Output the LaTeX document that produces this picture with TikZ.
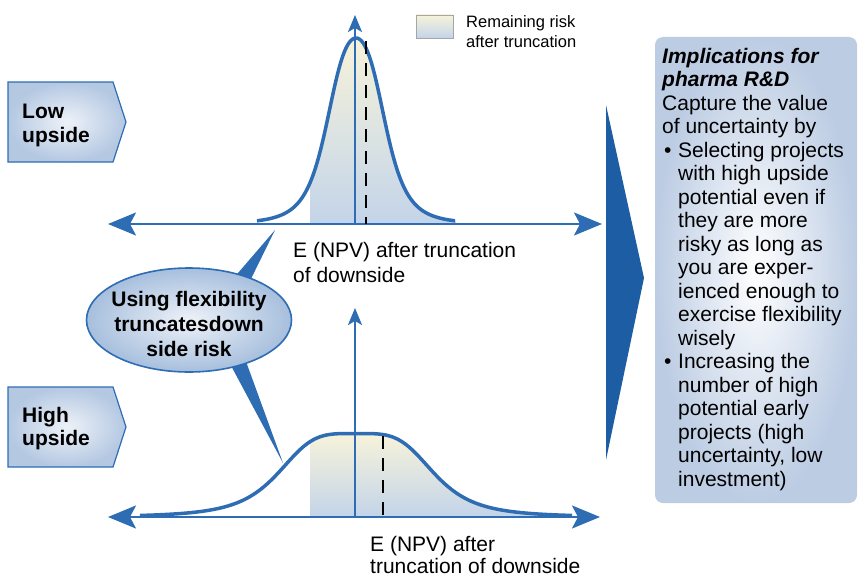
\documentclass[tikz,border=0pt]{standalone}
\usepackage{fontspec}
\setmainfont{Liberation Sans}
\usetikzlibrary{arrows.meta,shapes.geometric}

\definecolor{axisblue}{HTML}{2E6DB4}
\definecolor{deepblue}{HTML}{1C5DA3}
\definecolor{boxblue}{HTML}{B4C8E2}
\definecolor{boxcore}{HTML}{EEF2F8}
\definecolor{cream}{HTML}{F7F3DA}
\definecolor{riskblue}{HTML}{C3D4E9}
\definecolor{panelblue}{HTML}{BCCCE3}

% bullet and hanging indent for the implications list
\newcommand\pbul{\makebox[16pt][l]{\hspace{2pt}\textbullet}}
\newcommand\pind{\hspace*{16pt}}

\begin{document}
\begin{tikzpicture}[x=1pt,y=-1pt,
  haxis/.style={axisblue, line width=2.4pt,
    {Stealth[length=28pt,width=23pt,inset=6pt]}-{Stealth[length=28pt,width=23pt,inset=6pt]}},
  vaxis/.style={axisblue, line width=2pt, -{Stealth[length=17pt,width=14pt,inset=4pt]}},
  curve/.style={axisblue, line width=3.5pt, line join=round},
  meanline/.style={black, line width=2pt, dash pattern=on 13pt off 9pt},
  riskfill/.style={top color=cream, bottom color=riskblue},
  tag/.style={shade, inner color=boxcore, outer color=boxblue, draw=axisblue, line width=1.2pt},
  tagtext/.style={anchor=north west, inner sep=0, align=left,
    font=\fontsize{21}{23.5}\selectfont\bfseries},
  label/.style={anchor=north west, inner sep=0, align=left},
  spike/.style={fill=axisblue},
  % peaked density (low upside) and flat-topped density (high upside)
  declare function={
    tpk(\u)=((\u-356)/31)*((\u-356)/31);
    peak(\u)=224-186/(1+0.5*tpk(\u)+0.5*tpk(\u)*tpk(\u));
    tfl(\u)=((\u-356)/80)*((\u-356)/80);
    flat(\u)=517-83.5/(1+tfl(\u)*tfl(\u));
  }
]
\useasboundingbox (0,0) rectangle (859,578);

% ---------- legend ----------
\shade[riskfill, draw=black!35, line width=0.6pt] (416,15) rectangle (453,38);
\node[label, font=\fontsize{16.5}{20}\selectfont] (legend) at (466,15)
  {Remaining risk\\after truncation};

% ---------- low upside distribution ----------
\begin{scope}
  \clip (310,0) rectangle (470,226);
  \shade[riskfill] (256,224) -- plot[domain=256:456, samples=161] (\x, {peak(\x)})
    -- (456,224) -- cycle;
\end{scope}
\coordinate (tl) at (108,224);
\coordinate (tr) at (602,224);
\coordinate (tb) at (355,224);
\coordinate (tt) at (355,15);
\draw[haxis] (tl) -- (tr);
\draw[vaxis] (tb) -- (tt);
\draw[curve] plot[domain=257:455, samples=161] (\x, {peak(\x)});
\coordinate (tm1) at (366,41);
\coordinate (tm2) at (366,224);
\draw[meanline] (tm1) -- (tm2);

% ---------- high upside distribution ----------
\begin{scope}
  \clip (310,400) rectangle (600,519);
  \shade[riskfill] (140,517) -- plot[domain=140:572, samples=201] (\x, {flat(\x)})
    -- (572,517) -- cycle;
\end{scope}
\coordinate (bl) at (108,517);
\coordinate (br) at (600,517);
\coordinate (bb) at (355,517);
\coordinate (bt) at (355,308);
\draw[haxis] (bl) -- (br);
\draw[vaxis] (bb) -- (bt);
\draw[curve] plot[domain=140:572, samples=201] (\x, {flat(\x)});
\coordinate (bm1) at (383,436);
\coordinate (bm2) at (383,517);
\draw[meanline] (bm1) -- (bm2);

% ---------- axis labels ----------
\node[label, font=\fontsize{21}{25.5}\selectfont] (toplabel) at (293,242)
  {E (NPV) after truncation\\of downside};
\node[label, font=\fontsize{21}{22}\selectfont] (botlabel) at (370,536)
  {E (NPV) after\\truncation of downside};

% ---------- scenario tags ----------
\path[tag] (8,82) -- (113,82) -- (126,122) -- (113,162) -- (8,162) -- cycle;
\node[tagtext] (low) at (22,104) {Low\\upside};
\path[tag] (8,387) -- (113,387) -- (126,427) -- (113,467) -- (8,467) -- cycle;
\node[tagtext] (high) at (22,407) {High\\upside};

% ---------- callout ----------
\coordinate (sp1) at (275,230);
\coordinate (sp2) at (283,463);
\fill[spike] (232,280) -- (sp1) -- (248,285) -- cycle;
\fill[spike] (228,360) -- (sp2) -- (244,356) -- cycle;
\node[ellipse, minimum width=205pt, minimum height=104pt, inner sep=0,
      shade, inner color=boxcore, outer color=boxblue!90!axisblue,
      draw=axisblue, line width=1.6pt] (flex) at (189,320) {};
\node[anchor=center, inner sep=0, align=center,
      font=\fontsize{21}{25}\selectfont\bfseries] (flextext) at (189,324)
  {Using flexibility\\truncatesdown\\side risk};

% ---------- big arrow ----------
\fill[deepblue] (606,105) -- (644,278) -- (606,460) -- cycle;

% ---------- implications panel ----------
\shade[inner color=white, outer color=panelblue, rounded corners=8pt]
  (655,37) rectangle (857,503);
\node[label, font=\fontsize{21}{23.5}\selectfont] (impl) at (662,48)
  {\textbf{\textit{Implications for}}\\
   \textbf{\textit{pharma R\&D}}\\
   Capture the value\\
   of uncertainty by\\
   \pbul Selecting projects\\
   \pind with high upside\\
   \pind potential even if\\
   \pind they are more\\
   \pind risky as long as\\
   \pind you are exper-\\
   \pind ienced enough to\\
   \pind exercise flexibility\\
   \pind wisely\\
   \pbul Increasing the\\
   \pind number of high\\
   \pind potential early\\
   \pind projects (high\\
   \pind uncertainty, low\\
   \pind investment)};
\end{tikzpicture}
\end{document}
